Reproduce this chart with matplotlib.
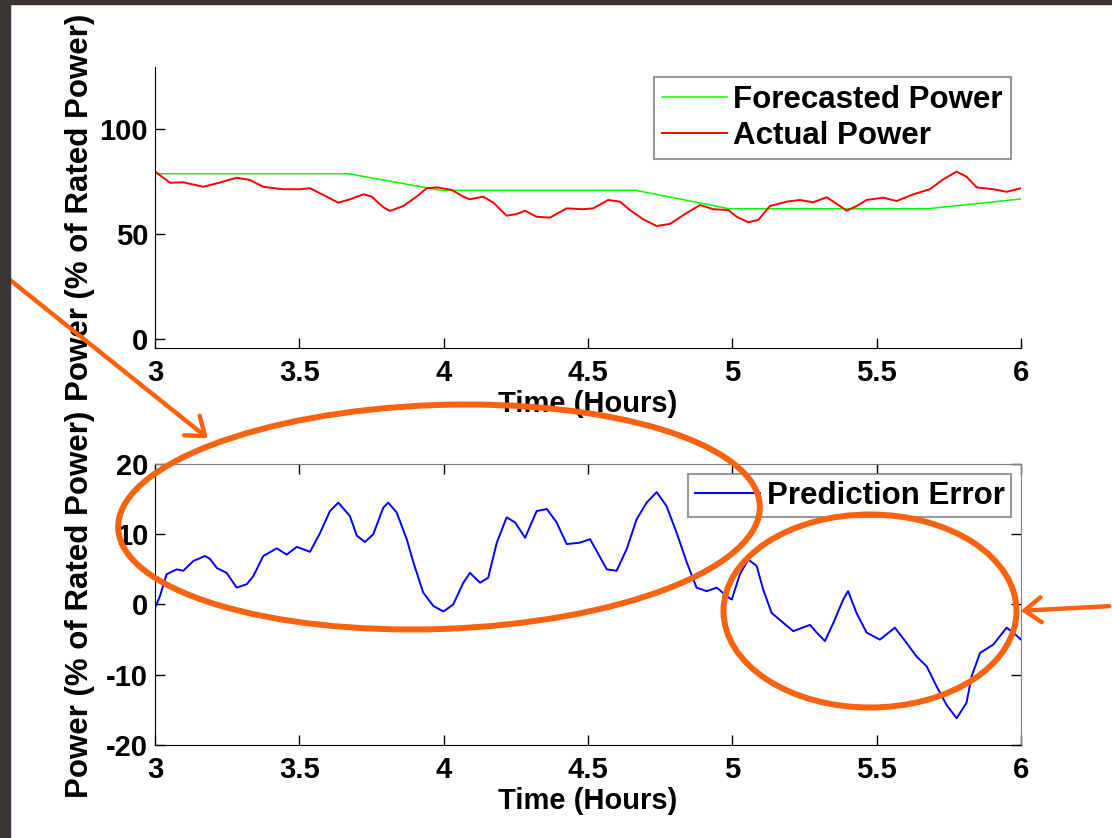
import matplotlib
matplotlib.use("Agg")
import matplotlib.pyplot as plt
from matplotlib.patches import Ellipse, FancyArrowPatch, Rectangle

plt.rcParams['font.family'] = ['Liberation Sans', 'DejaVu Sans']
plt.rcParams['font.weight'] = 'bold'
plt.rcParams['axes.labelweight'] = 'bold'
plt.rcParams['axes.unicode_minus'] = False

# forecast (hourly, ramped)
forecast_t = [3.0, 3.67, 3.99, 4.665, 4.99, 5.675, 6.0]
forecast = [78.7, 78.7, 70.8, 70.8, 62.0, 62.0, 66.7]

# actual power
actual_t = [3.0, 3.052, 3.098, 3.167, 3.214, 3.283, 3.329, 3.375, 3.444, 3.502,
            3.537, 3.583, 3.635, 3.675, 3.722, 3.751, 3.791, 3.814, 3.86, 3.906,
            3.941, 3.976, 4.028, 4.068, 4.091, 4.137, 4.172, 4.218, 4.253, 4.282,
            4.322, 4.368, 4.426, 4.484, 4.518, 4.57, 4.611, 4.645, 4.691, 4.738,
            4.784, 4.83, 4.888, 4.934, 4.986, 5.015, 5.055, 5.09, 5.13, 5.188,
            5.234, 5.28, 5.327, 5.35, 5.396, 5.43, 5.465, 5.523, 5.569, 5.627,
            5.684, 5.73, 5.777, 5.811, 5.846, 5.904, 5.95, 6.0]
actual = [79.7, 74.4, 74.6, 72.5, 74.1, 76.8, 75.7, 72.5, 71.3, 71.3,
          71.8, 68.6, 64.9, 66.5, 68.9, 67.8, 62.7, 61.0, 63.3, 67.8,
          71.8, 72.2, 71.0, 67.8, 66.5, 67.8, 64.9, 58.7, 59.5, 61.1,
          58.2, 57.8, 62.2, 61.8, 62.2, 66.2, 65.4, 61.4, 57.0, 53.8,
          54.8, 59.0, 63.8, 61.8, 61.4, 58.2, 55.6, 56.7, 63.3, 65.4,
          66.2, 65.1, 67.5, 65.4, 61.1, 63.3, 66.2, 67.3, 65.7, 68.9,
          71.3, 76.0, 79.7, 77.3, 72.2, 71.3, 70.1, 71.8]

# prediction error
error_t = [3.0, 3.017, 3.04, 3.075, 3.098, 3.133, 3.173, 3.19, 3.214, 3.248,
           3.283, 3.318, 3.34, 3.375, 3.422, 3.456, 3.491, 3.537, 3.572, 3.606,
           3.635, 3.675, 3.699, 3.727, 3.756, 3.791, 3.808, 3.837, 3.872, 3.895,
           3.929, 3.964, 3.999, 4.033, 4.068, 4.091, 4.126, 4.154, 4.184, 4.218,
           4.247, 4.282, 4.322, 4.357, 4.391, 4.426, 4.472, 4.507, 4.53, 4.565,
           4.599, 4.634, 4.668, 4.703, 4.738, 4.772, 4.807, 4.842, 4.876, 4.911,
           4.946, 4.98, 4.998, 5.026, 5.055, 5.084, 5.107, 5.136, 5.176, 5.211,
           5.269, 5.292, 5.321, 5.35, 5.384, 5.401, 5.43, 5.465, 5.511, 5.563,
           5.604, 5.638, 5.673, 5.708, 5.742, 5.777, 5.811, 5.829, 5.858, 5.904,
           5.95, 5.973, 6.0]
error = [-0.5, 1.2, 4.3, 5.0, 4.8, 6.2, 6.9, 6.5, 5.2, 4.5,
         2.4, 2.9, 4.0, 6.9, 8.0, 7.1, 8.2, 7.5, 10.2, 13.3,
         14.5, 12.6, 9.8, 8.9, 10.0, 13.8, 14.5, 13.1, 9.3, 6.0,
         1.7, -0.2, -1.0, 0.0, 3.1, 4.5, 3.1, 3.8, 8.8, 12.4,
         11.7, 9.5, 13.3, 13.6, 11.7, 8.6, 8.8, 9.3, 7.6, 5.0,
         4.8, 7.9, 12.1, 14.5, 16.0, 14.0, 10.2, 6.0, 2.4, 1.9,
         2.4, 1.2, 0.7, 4.3, 6.4, 5.5, 2.1, -1.2, -2.6, -3.8,
         -2.9, -4.0, -5.2, -2.6, 0.7, 1.9, -1.2, -4.0, -5.0, -3.3,
         -5.5, -7.4, -8.8, -11.7, -14.3, -16.2, -14.0, -10.2, -6.9, -5.7,
         -3.3, -4.0, -5.0]

x_ticks = [3, 3.5, 4, 4.5, 5, 5.5, 6]
x_tick_labels = ['3', '3.5', '4', '4.5', '5', '5.5', '6']
top_y_ticks = [0, 50, 100]
bottom_y_ticks = [-20, -10, 0, 10, 20]

FS = 21
ylabel = 'Power (% of Rated Power)'
xlabel = 'Time (Hours)'
orange = '#f9620f'

fig = plt.figure(figsize=(11.12, 8.38), dpi=100)
ax1 = fig.add_axes([0.1394, 0.5847, 0.7788, 0.3353])
ax2 = fig.add_axes([0.1394, 0.1110, 0.7788, 0.3353])

# upper panel
ax1.plot(forecast_t, forecast, color='#00ff00', lw=1.1, label='Forecasted Power')
ax1.plot(actual_t, actual, color='#ff0000', lw=1.4, label='Actual Power')
ax1.set_xlim(3, 6)
ax1.set_ylim(-4.3, 129.5)
ax1.spines['top'].set_visible(False)
ax1.spines['right'].set_visible(False)
ax1.tick_params(direction='in', length=7, width=1, labelsize=FS, pad=8)
ax1.tick_params(axis='y', pad=5)
ax1.set_xticks(x_ticks)
ax1.set_xticklabels(x_tick_labels)
ax1.set_yticks(top_y_ticks)
ax1.set_xlabel(xlabel, fontsize=FS)
ax1.set_ylabel(ylabel, fontsize=22.5)
ax1.xaxis.set_label_coords(0.5, -0.15)
ax1.yaxis.set_label_coords(-0.069, 0.5)
leg1 = ax1.legend(loc='upper right', fontsize=22.5, frameon=True, fancybox=False,
                  borderaxespad=0.33, handlelength=2.1, handletextpad=0.2,
                  borderpad=0.25, labelspacing=0.2)
leg1.get_frame().set_edgecolor('#808080')
leg1.get_frame().set_linewidth(1.5)

# lower panel
ax2.plot(error_t, error, color='#0000ff', lw=1.4, label='Prediction Error')
ax2.set_xlim(3, 6)
ax2.set_ylim(-20, 20)
ax2.tick_params(direction='in', length=7, width=1, labelsize=FS, pad=8,
                top=True, right=True)
ax2.tick_params(axis='y', pad=5)
ax2.set_xticks(x_ticks)
ax2.set_xticklabels(x_tick_labels)
ax2.set_yticks(bottom_y_ticks)
ax2.spines['top'].set_color('#808080')
ax2.spines['right'].set_color('#808080')
ax2.set_xlabel(xlabel, fontsize=FS)
ax2.set_ylabel(ylabel, fontsize=22.5)
ax2.xaxis.set_label_coords(0.5, -0.15)
ax2.yaxis.set_label_coords(-0.069, 0.5)
leg2 = ax2.legend(loc='upper right', fontsize=22.5, frameon=True, fancybox=False,
                  borderaxespad=0.33, handlelength=2.1, handletextpad=0.2,
                  borderpad=0.2)
leg2.get_frame().set_edgecolor('#808080')
leg2.get_frame().set_linewidth(1.5)

# orange slide annotations (positions in inches from bottom-left)
tr = fig.dpi_scale_trans
H = 8.38
fig.patches.append(Ellipse((4.39, H - 5.17), 6.42, 2.24, angle=2.0, fill=False,
                           edgecolor=orange, lw=4.3, transform=tr, figure=fig))
fig.patches.append(Ellipse((8.70, H - 6.11), 2.93, 1.93, fill=False,
                           edgecolor=orange, lw=4.3, transform=tr, figure=fig))
fig.patches.append(FancyArrowPatch((0.0, H - 2.72), (2.10, H - 4.40),
                                   arrowstyle='->,head_length=0.6,head_width=0.45',
                                   mutation_scale=20, color=orange, lw=3.2,
                                   transform=tr, figure=fig))
fig.patches.append(FancyArrowPatch((11.12, H - 6.06), (10.18, H - 6.11),
                                   arrowstyle='->,head_length=0.6,head_width=0.45',
                                   mutation_scale=20, color=orange, lw=3.2,
                                   transform=tr, figure=fig))

# dark slide border
fig.patches.append(Rectangle((0, 0), 0.10, H, color='#3a3532', transform=tr,
                             figure=fig, zorder=5))
fig.patches.append(Rectangle((0, H - 0.04), 11.12, 0.04, color='#3a3532',
                             transform=tr, figure=fig, zorder=5))

fig.savefig('out.png', dpi=100)
plt.close(fig)
